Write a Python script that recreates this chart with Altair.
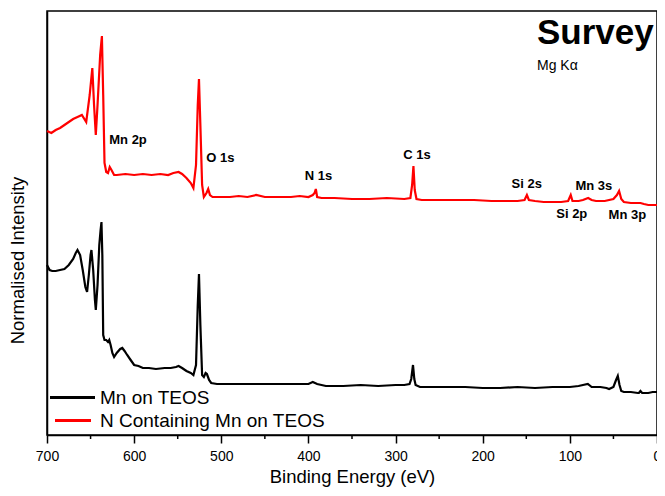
import altair as alt
import pandas as pd

# ---------------- data ----------------
red_be = [700, 695, 690, 685, 680, 675, 670, 665, 660, 655, 651, 648, 646, 644, 642, 639, 637, 635.5,
          634, 632, 630, 628, 626, 623, 620, 610, 600, 590, 580, 570, 561, 555, 549, 545, 540, 535, 532,
          529, 527, 525.6, 524, 522, 520, 517, 515, 513, 510, 500, 490, 480, 470, 460, 450, 440, 430,
          420, 410, 400, 395, 393, 391.5, 390, 385, 370, 350, 330, 310, 290, 283, 281, 279.5, 278, 276,
          270, 250, 230, 210, 190, 170, 160, 152, 149.3, 147, 140, 130, 120, 110, 102, 99, 97, 90, 85,
          79, 75, 70, 60, 50, 46, 43.5, 41, 38, 30, 25, 19, 15, 10, 5, 0]
red_int = [304, 302, 305, 307, 310, 313, 316, 318, 320, 313, 340, 367, 330, 300, 330, 380, 399, 340,
           272, 263, 262, 268, 265, 260, 260, 261, 260, 261, 260, 261, 260, 262, 263, 261, 257, 252, 247,
           270, 330, 356, 310, 250, 238, 242, 246, 240, 238, 238, 238, 239, 238, 240, 238, 238, 238,
           238, 239, 238, 240, 242, 246, 238, 237, 237, 236, 236, 237, 236, 237, 250, 269, 245, 236,
           235, 235, 235, 235, 234, 234, 234, 235, 240, 235, 234, 233, 233, 233, 234, 240, 234, 234, 235,
           237, 235, 234, 234, 236, 240, 244, 236, 233, 232, 232, 232, 231, 230, 230, 230]

black_be = [700, 697, 694, 690, 685, 680, 675, 670, 667, 665, 662, 659, 656, 654, 652, 650, 649, 647,
            645, 644, 642, 640, 638.5, 637.5, 636.5, 635.5, 634, 632, 630, 628.6, 627, 625, 623, 620,
            616, 613.6, 611, 608, 604, 600, 595, 590, 583, 575, 565, 558, 552, 549, 545, 540, 535, 532,
            529, 527, 525.6, 524, 522, 520, 518, 516.5, 514, 511.6, 505, 500, 480, 460, 440, 420, 400,
            395, 390, 380, 360, 340, 320, 300, 290, 284, 282, 280, 278.5, 277, 272, 260, 240, 220, 200,
            180, 160, 140, 120, 100, 90, 85, 79.4, 75, 65, 58, 55, 50, 47, 45, 43, 41, 38, 30, 22, 20.8,
            19, 17, 10, 5, 0]
black_int = [170, 165, 164, 164, 165, 166, 170, 176, 182, 185, 180, 165, 148, 143, 160, 180, 185, 165,
             135, 125, 150, 190, 205, 213, 180, 100, 95, 95, 93, 95, 90, 82, 78, 82,
             86, 87, 84, 80, 75, 70, 69, 67, 67, 66, 67, 67, 68, 69, 67, 64, 62, 60,
             70, 130, 161, 110, 60, 58, 62, 61, 55, 52, 51, 51, 51, 51, 51, 51, 51,
             53, 51, 49, 49, 50, 49, 50, 50, 51, 56, 70, 56, 50, 48, 48, 48, 48, 47,
             47, 48, 47, 48, 48, 49, 50, 51, 48, 48, 47, 46, 48, 55, 59, 50, 44, 43, 43, 42, 42,
             44, 42, 42, 43, 43]

series_names = ["Mn on TEOS", "N Containing Mn on TEOS"]
series_colors = ["#000000", "#ff0000"]

peak_labels = ["Mn 2p", "O 1s", "N 1s", "C 1s", "Si 2s", "Mn 3s", "Si 2p", "Mn 3p"]
peak_be = [607, 501, 388.5, 275.3, 149.5, 72.5, 97.8, 34]
peak_int = [295, 277.5, 259.5, 280.5, 251, 248.7, 221.2, 220.3]

major_ticks = [700, 600, 500, 400, 300, 200, 100, 0]
minor_ticks = [650, 550, 450, 350, 250, 150, 50]

FONT = "Liberation Sans"

# ---------------- tables ----------------
df = pd.concat([
    pd.DataFrame({"be": black_be, "intensity": black_int, "series": series_names[0]}),
    pd.DataFrame({"be": red_be, "intensity": red_int, "series": series_names[1]}),
])
peaks = pd.DataFrame({"label": peak_labels, "be": peak_be, "intensity": peak_int})
minors = pd.DataFrame({"be": minor_ticks})

xscale = alt.Scale(domain=[0, 700], reverse=True, nice=False, zero=False)
yscale = alt.Scale(domain=[0, 424], nice=False, zero=False)

x_axis = alt.Axis(
    values=major_ticks, title="Binding Energy (eV)", grid=False,
    tickSize=8, tickColor="black", tickWidth=1.5, domainColor="black", domainWidth=1.5,
    labelFont=FONT, labelFontSize=14, labelColor="black", labelPadding=6, labelFlush=False,
    titleFont=FONT, titleFontSize=18.5, titleFontWeight="normal", titleColor="black",
    titleY=47, titleBaseline="alphabetic",
)
y_axis = alt.Axis(
    labels=False, ticks=False, grid=False, title="Normalised Intensity",
    domainColor="black", domainWidth=1.5,
    titleFont=FONT, titleFontSize=18.5, titleFontWeight="normal", titleColor="black",
    titleX=-20, titleY=249, titleAngle=-90, titleAlign="center", titleBaseline="bottom",
)

lines = alt.Chart(df).mark_line(strokeWidth=2.2).encode(
    x=alt.X("be:Q", scale=xscale, axis=x_axis),
    y=alt.Y("intensity:Q", scale=yscale, axis=y_axis),
    color=alt.Color("series:N", scale=alt.Scale(domain=series_names, range=series_colors), legend=None),
    detail="series:N",
)

minor = alt.Chart(minors).mark_rule(color="black", strokeWidth=1.5).encode(
    x=alt.X("be:Q", scale=xscale),
    y=alt.value(424), y2=alt.value(428),
)

labels = alt.Chart(peaks).mark_text(
    font=FONT, fontSize=13, fontWeight="bold", color="black", align="center", baseline="middle"
).encode(
    x=alt.X("be:Q", scale=xscale),
    y=alt.Y("intensity:Q", scale=yscale),
    text="label:N",
)

title = alt.Chart(pd.DataFrame({"t": ["Survey"]})).mark_text(
    font=FONT, fontSize=35, fontWeight="bold", color="black", align="left", baseline="alphabetic"
).encode(x=alt.value(490), y=alt.value(33), text="t:N")

subtitle = alt.Chart(pd.DataFrame({"t": ["Mg Kα"]})).mark_text(
    font=FONT, fontSize=14, color="black", align="left", baseline="alphabetic"
).encode(x=alt.value(490), y=alt.value(58.5), text="t:N")

leg_layers = []
leg_geom = [(3, 48, 386.5), (8, 44, 409.5)]
for name, col, (x1, x2, yy) in zip(series_names, series_colors, leg_geom):
    leg_layers.append(
        alt.Chart(pd.DataFrame({"t": [name]})).mark_rule(color=col, strokeWidth=3).encode(
            x=alt.value(x1), x2=alt.value(x2), y=alt.value(yy)
        )
    )
    leg_layers.append(
        alt.Chart(pd.DataFrame({"t": [name]})).mark_text(
            font=FONT, fontSize=19, color="black", align="left", baseline="middle"
        ).encode(x=alt.value(53), y=alt.value(yy), text="t:N")
    )

chart = alt.layer(lines, minor, labels, title, subtitle, *leg_layers).properties(
    width=610, height=424,
    autosize=alt.AutoSizeParams(type="none"),
    padding={"left": 39, "top": 3, "right": 0, "bottom": 53},
    background="white",
).configure_view(stroke="black", strokeWidth=1.5)

chart.save("out.html", embed_options={"renderer": "svg", "actions": False})
